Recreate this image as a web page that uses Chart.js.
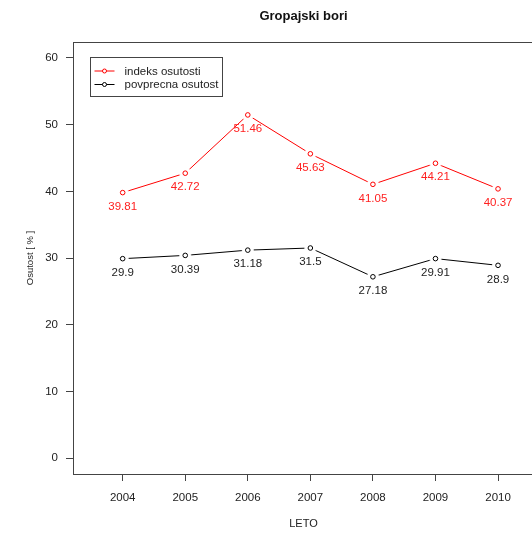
<!DOCTYPE html>
<html><head><meta charset="utf-8">
<script src="https://cdn.jsdelivr.net/npm/chart.js@4.4.0/dist/chart.umd.min.js"></script>
<style>html,body{margin:0;padding:0;background:#fff;overflow:hidden;width:532px;height:533px}canvas{display:block}</style>
</head><body>
<canvas id="c" width="546" height="533" style="width:546px;height:533px"></canvas>
<script>
const years = [2004, 2005, 2006, 2007, 2008, 2009, 2010];
const indeksOsutosti = [39.81, 42.72, 51.46, 45.63, 41.05, 44.21, 40.37];
const povprecnaOsutost = [29.9, 30.39, 31.18, 31.5, 27.18, 29.91, 28.9];
const yTicks = [0, 10, 20, 30, 40, 50, 60];
const seriesNames = ['indeks osutosti', 'povprecna osutost'];
const seriesColors = ['#ff0000', '#000000'];
const chartTitle = 'Gropajski bori';
const xTitle = 'LETO';
const yTitle = 'Osutost [ % ]';

const FONT = "'Liberation Sans', Arial, sans-serif";
const AXIS = '#444';

// white halo that opens a small gap in the line around each point (R type="b")
function makeHalo() {
  const c = document.createElement('canvas');
  c.width = 14; c.height = 14;
  const g = c.getContext('2d');
  g.fillStyle = '#fff';
  g.beginPath(); g.arc(7, 7, 6, 0, Math.PI * 2); g.fill();
  return c;
}
const halo = makeHalo();

const seriesValues = [indeksOsutosti, povprecnaOsutost];
const datasets = seriesValues.map((vals, i) => ({
  label: seriesNames[i],
  data: years.map((y, j) => ({x: y, y: vals[j]})),
  borderColor: seriesColors[i],
  backgroundColor: seriesColors[i],
  borderWidth: 1,
  pointStyle: halo,
  pointRadius: 3,
  pointHoverRadius: 3,
  tension: 0
}));

const boxPlugin = {
  id: 'box',
  afterDraw(chart) {
    const {ctx, chartArea: a} = chart;
    ctx.save();
    ctx.strokeStyle = AXIS; ctx.lineWidth = 1;
    ctx.strokeRect(Math.round(a.left) + 0.5, Math.round(a.top) + 0.5, Math.round(a.right - a.left), Math.round(a.bottom - a.top));
    ctx.restore();
  }
};

const labelPlugin = {
  id: 'vlabels',
  afterDatasetsDraw(chart) {
    const ctx = chart.ctx;
    ctx.save();
    chart.data.datasets.forEach((ds, i) => {
      const meta = chart.getDatasetMeta(i);
      // open circle markers
      ctx.strokeStyle = ds.borderColor; ctx.lineWidth = 1;
      meta.data.forEach(pt => {
        ctx.beginPath(); ctx.arc(pt.x, pt.y, 2.3, 0, Math.PI * 2); ctx.stroke();
      });
      // value labels below points
      ctx.font = '11.5px ' + FONT;
      ctx.textAlign = 'center';
      ctx.textBaseline = 'middle';
      ctx.fillStyle = i === 0 ? '#ff2020' : '#222';
      meta.data.forEach((pt, j) => {
        ctx.fillText(String(seriesValues[i][j]), pt.x, pt.y + 14);
      });
    });
    ctx.restore();
  }
};

const legendPlugin = {
  id: 'rlegend',
  afterDraw(chart) {
    const {ctx, chartArea: a} = chart;
    const bx = Math.round(a.left) + 17.5, by = Math.round(a.top) + 15.5;
    const bw = 132, bh = 39;
    ctx.save();
    ctx.fillStyle = '#fff';
    ctx.fillRect(bx, by, bw, bh);
    ctx.strokeStyle = AXIS; ctx.lineWidth = 1;
    ctx.strokeRect(bx, by, bw, bh);
    ctx.font = '11.5px ' + FONT;
    ctx.textBaseline = 'middle';
    ctx.textAlign = 'left';
    chart.data.datasets.forEach((ds, i) => {
      const y = by + 13.5 + i * 13.5;
      ctx.strokeStyle = ds.borderColor;
      ctx.beginPath(); ctx.moveTo(bx + 4, y); ctx.lineTo(bx + 24, y); ctx.stroke();
      ctx.fillStyle = '#fff';
      ctx.beginPath(); ctx.arc(bx + 14, y, 2, 0, Math.PI * 2); ctx.fill(); ctx.stroke();
      ctx.fillStyle = '#222';
      ctx.fillText(ds.label, bx + 34, y + 0.5);
    });
    ctx.restore();
  }
};

new Chart(document.getElementById('c'), {
  type: 'line',
  data: {datasets},
  options: {
    responsive: false,
    devicePixelRatio: 1,
    animation: false,
    events: [],
    layout: {padding: {top: 0, right: 12, bottom: 0, left: 0}},
    plugins: {
      legend: {display: false},
      tooltip: {enabled: false},
      title: {
        display: true,
        text: chartTitle,
        fullSize: false,
        color: '#111',
        font: {family: FONT, size: 13, weight: 'bold', lineHeight: 1.2},
        padding: {top: 9, bottom: 17.4}
      }
    },
    scales: {
      x: {
        type: 'linear',
        position: 'bottom',
        min: years[0] - 0.794,
        max: years[years.length - 1] + 0.575,
        afterBuildTicks: s => { s.ticks = years.map(v => ({value: v})); },
        afterFit: s => { s.height = 59; },
        grid: {display: true, drawOnChartArea: false, drawTicks: true, tickLength: 7, color: AXIS},
        border: {display: false},
        ticks: {
          autoSkip: false, maxRotation: 0, padding: 10,
          color: '#222', font: {family: FONT, size: 11.5},
          callback: v => String(v)
        },
        title: {display: true, text: xTitle, color: '#222', font: {family: FONT, size: 11}, padding: {top: 0, bottom: 2}}
      },
      y: {
        type: 'linear',
        min: -2.4,
        max: 62.4,
        afterBuildTicks: s => { s.ticks = yTicks.map(v => ({value: v})); },
        afterFit: s => { s.width = 73; },
        grid: {display: true, drawOnChartArea: false, drawTicks: true, tickLength: 7, color: AXIS},
        border: {display: false},
        ticks: {
          autoSkip: false, padding: 8,
          color: '#222', font: {family: FONT, size: 11.5},
          callback: v => String(v)
        },
        title: {display: true, text: yTitle, color: '#222', font: {family: FONT, size: 9.5}, padding: {top: 25, bottom: 0}}
      }
    }
  },
  plugins: [boxPlugin, labelPlugin, legendPlugin]
});
</script>
</body></html>
